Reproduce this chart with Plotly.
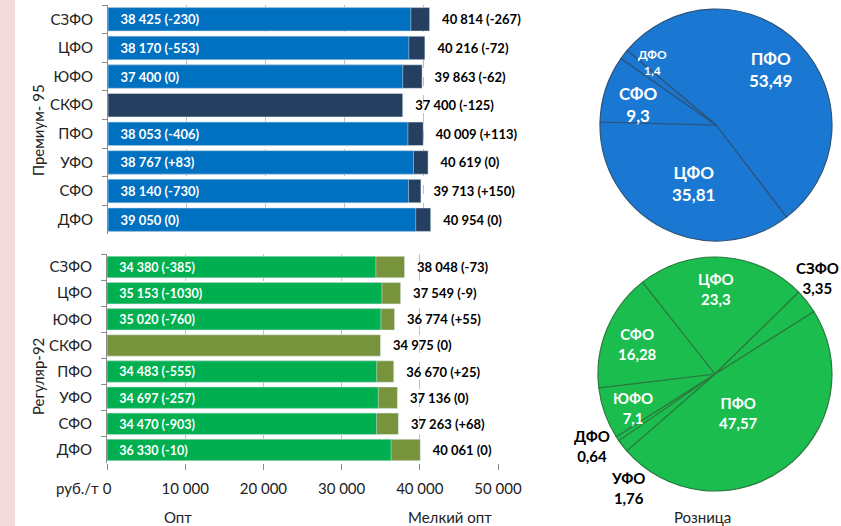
import plotly.graph_objects as go

# регионы (сверху вниз)
regions = ['СЗФО', 'ЦФО', 'ЮФО', 'СКФО', 'ПФО', 'УФО', 'СФО', 'ДФО']

# Премиум-95, руб./т: опт и мелкий опт, в скобках изменение
opt95 = [38425, 38170, 37400, None, 38053, 38767, 38140, 39050]
opt95_chg = ['-230', '-553', '0', '', '-406', '+83', '-730', '0']
melk95 = [40814, 40216, 39863, 37400, 40009, 40619, 39713, 40954]
melk95_chg = ['-267', '-72', '-62', '-125', '+113', '0', '+150', '0']

# Регуляр-92
opt92 = [34380, 35153, 35020, None, 34483, 34697, 34470, 36330]
opt92_chg = ['-385', '-1030', '-760', '', '-555', '-257', '-903', '-10']
melk92 = [38048, 37549, 36774, 34975, 36670, 37136, 37263, 40061]
melk92_chg = ['-73', '-9', '+55', '0', '+25', '0', '+68', '0']

# розница (круговые), по часовой стрелке
pie95_labels = ['ПФО', 'ЦФО', 'СФО', 'ДФО']
pie95_vals = [53.49, 35.81, 9.3, 1.4]
pie92_labels = ['ПФО', 'УФО', 'ДФО', 'ЮФО', 'СФО', 'ЦФО', 'СЗФО']
pie92_vals = [47.57, 1.76, 0.64, 7.1, 16.28, 23.3, 3.35]

x_ticks = [0, 10000, 20000, 30000, 40000, 50000]

FONT = 'Lato'
W, H = 841, 526


def px(x):
    return x / W


def py(y):
    return 1 - y / H


def num(v):
    return f'{v:g}'.replace('.', ',')


NB = '\u00a0\u00a0\u00a0'

fig = go.Figure()

# верхний блок — Премиум-95
fig.add_trace(go.Bar(y=regions, x=melk95, orientation='h', customdata=melk95_chg,
                     marker_color='#243f60', width=0.82,
                     texttemplate=NB + '%{x:,} (%{customdata})', textposition='outside',
                     outsidetextfont=dict(family=FONT, size=13, color='black', weight='bold'),
                     cliponaxis=False, xaxis='x', yaxis='y', hoverinfo='skip'))
fig.add_trace(go.Bar(y=regions, x=opt95, orientation='h', customdata=opt95_chg,
                     marker_color='#0070c0', width=0.82,
                     texttemplate=NB + '%{x:,} (%{customdata})', textposition='inside',
                     insidetextanchor='start',
                     insidetextfont=dict(family=FONT, size=13, color='white', weight='bold'),
                     xaxis='x', yaxis='y', hoverinfo='skip'))

# нижний блок — Регуляр-92
fig.add_trace(go.Bar(y=regions, x=melk92, orientation='h', customdata=melk92_chg,
                     marker_color='#77933c', width=0.82,
                     texttemplate=NB + '%{x:,} (%{customdata})', textposition='outside',
                     outsidetextfont=dict(family=FONT, size=13, color='black', weight='bold'),
                     cliponaxis=False, xaxis='x2', yaxis='y2', hoverinfo='skip'))
fig.add_trace(go.Bar(y=regions, x=opt92, orientation='h', customdata=opt92_chg,
                     marker_color='#00b050', width=0.82,
                     texttemplate=NB + '%{x:,} (%{customdata})', textposition='inside',
                     insidetextanchor='start',
                     insidetextfont=dict(family=FONT, size=13, color='white', weight='bold'),
                     xaxis='x2', yaxis='y2', hoverinfo='skip'))

# круговые
fig.add_trace(go.Pie(labels=pie95_labels, values=pie95_vals, sort=False,
                     direction='clockwise', rotation=-50,
                     domain=dict(x=[px(600), px(832)], y=[py(241), py(9)]),
                     marker=dict(colors=['#1a78d2'] * 4, line=dict(color='#2c5378', width=1.2)),
                     textinfo='none', showlegend=False, hoverinfo='skip'))
fig.add_trace(go.Pie(labels=pie92_labels, values=pie92_vals, sort=False,
                     direction='clockwise', rotation=57.7,
                     domain=dict(x=[px(598), px(832)], y=[py(491), py(257)]),
                     marker=dict(colors=['#1bbd4f'] * 7, line=dict(color='#2b7a3c', width=1.2)),
                     textinfo='none', showlegend=False, hoverinfo='skip'))

axis_x = dict(range=[0, 50000], tickvals=x_ticks, tickformat=',', showgrid=True,
              gridcolor='#bfbfbf', griddash='dash', zeroline=False, showline=False,
              automargin=False)
axis_y = dict(autorange='reversed', showline=True, linecolor='#8c8c8c', ticks='outside',
              tickson='boundaries', ticklen=5, tickcolor='#8c8c8c', showgrid=False,
              ticklabelstandoff=11, tickfont=dict(family=FONT, size=15, color='#222'),
              automargin=False)

fig.update_layout(
    width=W, height=H, autosize=False,
    margin=dict(l=0, r=0, t=0, b=0),
    paper_bgcolor='white', plot_bgcolor='white',
    separators=', ',
    barmode='overlay',
    showlegend=False,
    font=dict(family=FONT, color='#222'),
    xaxis=dict(axis_x, domain=[px(108), px(502)], anchor='y', showticklabels=False),
    yaxis=dict(axis_y, domain=[py(234), py(5)], anchor='x'),
    xaxis2=dict(axis_x, domain=[px(107), px(498)], anchor='y2', ticks='outside', ticklen=6,
                tickcolor='#8c8c8c', ticklabelstandoff=6,
                tickfont=dict(family=FONT, size=15, color='#222')),
    yaxis2=dict(axis_y, domain=[py(463), py(254)], anchor='x2'),
)

# розовая полоса слева
fig.add_shape(type='rect', xref='paper', yref='paper', x0=0, x1=px(15), y0=0, y1=1,
              fillcolor='#f2dcdb', line_width=0, layer='below')

ann = dict(xref='paper', yref='paper', showarrow=False, xanchor='center', yanchor='middle',
           font=dict(family=FONT, size=15, color='#222'))
fig.add_annotation(ann, x=px(38), y=py(130), text='Премиум- 95', textangle=-90)
fig.add_annotation(ann, x=px(38), y=py(377), text='Регуляр-92', textangle=-90)
fig.add_annotation(ann, x=px(77), y=py(488), text='руб./т')
fig.add_annotation(ann, x=px(178), y=py(517), text='Опт')
fig.add_annotation(ann, x=px(450), y=py(517), text='Мелкий опт')
fig.add_annotation(ann, x=px(702), y=py(517), text='Розница')

# подписи долей: (регион, x, y, размер, цвет)
pie95_text = [('ПФО', 770, 69, 17, 'white'), ('ЦФО', 693, 183, 17, 'white'),
              ('СФО', 638, 104, 17, 'white'), ('ДФО', 652, 62, 12, 'white')]
pie92_text = [('ЦФО', 716, 289, 15, 'white'), ('СЗФО', 817, 278, 15, 'black'),
              ('СФО', 637, 344, 15, 'white'), ('ЮФО', 633, 408, 15, 'white'),
              ('ПФО', 738, 413, 15, 'white'), ('ДФО', 592, 446, 15, 'black'),
              ('УФО', 628, 488, 15, 'black')]
for labels, vals, items in [(pie95_labels, pie95_vals, pie95_text),
                            (pie92_labels, pie92_vals, pie92_text)]:
    for name, x, y, size, color in items:
        v = vals[labels.index(name)]
        fig.add_annotation(xref='paper', yref='paper', showarrow=False,
                           xanchor='center', yanchor='middle', x=px(x), y=py(y),
                           text=name + '<br>' + num(v),
                           font=dict(family=FONT, size=size, color=color, weight='bold'))

fig.write_html('out.html',
               config={'displayModeBar': False, 'responsive': False},
               post_script="document.body.style.margin='0';document.body.style.overflow='hidden';")
